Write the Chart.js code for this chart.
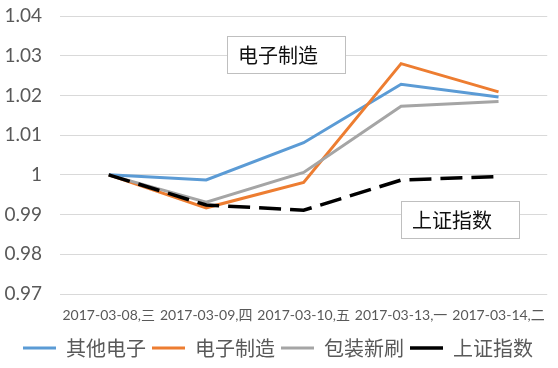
<!DOCTYPE html>
<html>
<head>
<meta charset="utf-8">
<script src="https://cdn.jsdelivr.net/npm/chart.js@4"></script>
<style>
  html, body { margin: 0; padding: 0; background: #fff; }
  #wrap { width: 558px; height: 368px; position: relative; }
</style>
</head>
<body>
<div id="wrap"><canvas id="chart"></canvas></div>
<script>
// Data
const dates = ['2017-03-08,三', '2017-03-09,四', '2017-03-10,五', '2017-03-13,一', '2017-03-14,二'];
const otherElectronics = [1.0000, 0.9987, 1.0081, 1.0228, 1.0196];
const electronicMfg = [1.0000, 0.9917, 0.9981, 1.0280, 1.0209];
const packagingPrint = [1.0000, 0.9931, 1.0006, 1.0173, 1.0185];
const shIndex = [1.0000, 0.9924, 0.9911, 0.9987, 0.9996];
const yTicks = { min: 0.97, max: 1.04, step: 0.01 };

// Text boxes drawn over the plot (pixel layout)
const notes = [
    { text: '电子制造', x: 227, y: 36, w: 118, h: 37 },
    { text: '上证指数', x: 401, y: 201, w: 118, h: 37 }
];

const font = 'Lato, "Noto Sans CJK SC", sans-serif';
const cjk = '"Noto Sans CJK SC", sans-serif';

// Draw the two note boxes after the lines
const notePlugin = {
    id: 'notes',
    afterDatasetsDraw(chart) {
        const c = chart.ctx;
        c.save();
        notes.forEach(n => {
            c.fillStyle = '#fff';
            c.fillRect(n.x, n.y, n.w, n.h);
            c.strokeStyle = '#bfbfbf';
            c.lineWidth = 1;
            c.strokeRect(n.x + 0.5, n.y + 0.5, n.w, n.h);
            c.fillStyle = '#111';
            c.font = '20px ' + cjk;
            c.textAlign = 'left';
            c.textBaseline = 'middle';
            c.fillText(n.text, n.x + 11, n.y + n.h / 2 + 1);
        });
        c.restore();
    }
};

function line(label, data, color, order, dash) {
    return {
        label: label,
        data: data,
        borderColor: color,
        backgroundColor: color,
        borderWidth: dash ? 3.5 : 3,
        borderDash: dash || [],
        pointRadius: 0,
        tension: 0,
        order: order
    };
}

const ctx = document.getElementById('chart').getContext('2d');
const chart = new Chart(ctx, {
    type: 'line',
    data: {
        labels: dates,
        datasets: [
            line('其他电子', otherElectronics, '#5b9bd5', 4),
            line('电子制造', electronicMfg, '#ed7d31', 3),
            line('包装新刷', packagingPrint, '#a5a5a5', 2),
            line('上证指数', shIndex, '#000000', 1, [22, 9])
        ]
    },
    options: {
        responsive: true,
        maintainAspectRatio: false,
        animation: false,
        layout: { padding: { top: 16, right: 2, bottom: 0, left: 0 } },
        plugins: {
            tooltip: { enabled: false },
            legend: {
                position: 'bottom',
                reverse: true,
                labels: {
                    usePointStyle: true,
                    pointStyle: 'line',
                    pointStyleWidth: 33,
                    color: '#595959',
                    font: { family: cjk, size: 20 },
                    padding: 6
                }
            }
        },
        scales: {
            x: {
                offset: true,
                afterFit(s) { s.height = 38; },
                grid: { display: false, drawTicks: false },
                border: { display: false },
                ticks: {
                    autoSkip: false,
                    maxRotation: 0,
                    padding: 13,
                    color: '#595959',
                    font: { family: font, size: 14 }
                }
            },
            y: {
                min: yTicks.min,
                max: yTicks.max,
                afterFit(s) {
                    s.width = 60;
                    s.paddingTop = 0;
                    s.paddingBottom = 0;
                },
                grid: { color: '#d9d9d9', lineWidth: 1, drawTicks: false },
                border: { display: false },
                ticks: {
                    stepSize: yTicks.step,
                    padding: 18,
                    color: '#595959',
                    font: { family: font, size: 19 },
                    callback: v => String(+v.toFixed(2))
                }
            }
        }
    },
    plugins: [notePlugin]
});
</script>
</body>
</html>
